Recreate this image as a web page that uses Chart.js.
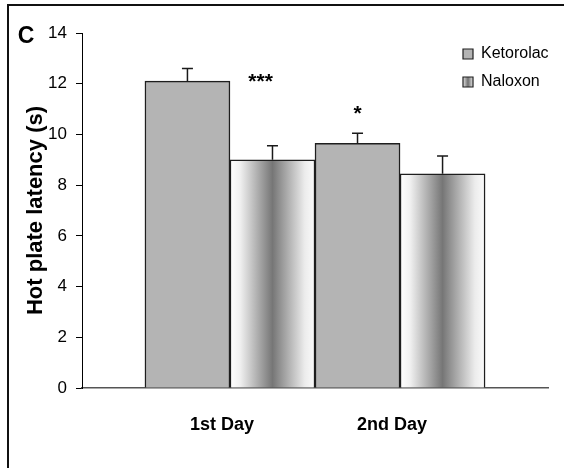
<!DOCTYPE html>
<html><head><meta charset="utf-8">
<script src="https://cdn.jsdelivr.net/npm/chart.js@4.4.1/dist/chart.umd.min.js"></script>
<style>html,body{margin:0;padding:0;background:#fff;} #wrap{width:564px;height:468px;position:relative;}</style>
</head><body><div id="wrap"><canvas id="c" width="564" height="468"></canvas></div>
<script>
const categories = ['1st Day', '2nd Day'];
const ketorolac = [12.1, 9.65];
const ketorolacErr = [0.5, 0.4];
const naloxon = [9.0, 8.45];
const naloxonErr = [0.55, 0.7];
const yTicks = [0, 2, 4, 6, 8, 10, 12, 14];
const sigLabels = ['***', '*'];
const sigX = [1.18, 1.75];
const sigY = [11.83, 10.57];
const panelLabel = 'C';
const yTitle = 'Hot plate latency (s)';

const FONT = "'Liberation Sans', Arial, sans-serif";
const errs = [ketorolacErr, naloxonErr];

function naloxonFill(ctx) {
  if (ctx.type !== 'data') return '#a4a4a4';
  const chart = ctx.chart, xs = chart.scales.x;
  if (!xs || !chart.chartArea || !ctx.raw) return '#a4a4a4';
  const c = xs.getPixelForValue(ctx.raw.x);
  const unit = xs.getPixelForValue(ctx.raw.x + 1) - c;
  if (!isFinite(c) || !isFinite(unit)) return '#a4a4a4';
  const g = chart.ctx.createLinearGradient(c, 0, c + unit / 2, 0);
  g.addColorStop(0, '#ffffff');
  g.addColorStop(0.12, '#f0f0f0');
  g.addColorStop(0.5, '#767676');
  g.addColorStop(0.88, '#ececec');
  g.addColorStop(1, '#fbfbfb');
  return g;
}

const decor = {
  id: 'decor',
  beforeDraw(chart) {
    const c = chart.ctx;
    c.save();
    c.fillStyle = '#fff';
    c.fillRect(0, 0, chart.width, chart.height);
    c.fillStyle = '#111';
    c.fillRect(7, 4, 2, chart.height - 4);
    c.fillRect(7, 4, chart.width - 7, 2);
    c.fillStyle = '#000';
    c.font = 'bold 23px ' + FONT;
    c.textAlign = 'center';
    c.textBaseline = 'middle';
    c.fillText(panelLabel, 26, 37);
    c.restore();
  },
  afterLayout(chart) {
    const lg = chart.legend;
    if (!lg) return;
    const w = lg.width, h = lg.height;
    lg.left = 451; lg.right = 451 + w;
    lg.top = 34; lg.bottom = 34 + h;
  },
  afterDatasetsDraw(chart) {
    const c = chart.ctx, ys = chart.scales.y, xs = chart.scales.x;
    c.save();
    c.strokeStyle = '#1a1a1a';
    c.lineWidth = 1.5;
    chart.data.datasets.forEach((ds, i) => {
      const meta = chart.getDatasetMeta(i);
      meta.data.forEach((el, j) => {
        const v = ds.data[j].y;
        const top = ys.getPixelForValue(v + errs[i][j]);
        c.beginPath();
        c.moveTo(el.x, el.y);
        c.lineTo(el.x, top);
        c.moveTo(el.x - 5.5, top);
        c.lineTo(el.x + 5.5, top);
        c.stroke();
      });
    });
    c.fillStyle = '#000';
    c.font = 'bold 21px ' + FONT;
    c.textAlign = 'center';
    c.textBaseline = 'alphabetic';
    sigLabels.forEach((s, k) => {
      c.fillText(s, xs.getPixelForValue(sigX[k]), ys.getPixelForValue(sigY[k]));
    });
    c.restore();
  }
};

function legendLabels(chart) {
  const items = Chart.defaults.plugins.legend.labels.generateLabels(chart);
  const lg = chart.legend;
  if (items[1]) {
    const x0 = (lg && isFinite(lg.left) ? lg.left : 451) + 12;
    const g = chart.ctx.createLinearGradient(x0, 0, x0 + 10, 0);
    g.addColorStop(0, '#e4e4e4');
    g.addColorStop(0.5, '#707070');
    g.addColorStop(1, '#e4e4e4');
    items[1].fillStyle = g;
  }
  items.forEach(it => { it.lineWidth = 1.2; it.strokeStyle = '#1e1e1e'; });
  return items;
}

new Chart(document.getElementById('c'), {
  type: 'bar',
  data: {
    datasets: [
      {
        label: 'Ketorolac',
        data: categories.map((c, i) => ({ x: i + 1, y: ketorolac[i] })),
        backgroundColor: '#b4b4b4',
        borderColor: '#1e1e1e',
        borderWidth: 1.5
      },
      {
        label: 'Naloxon',
        data: categories.map((c, i) => ({ x: i + 1, y: naloxon[i] })),
        backgroundColor: naloxonFill,
        borderColor: '#1e1e1e',
        borderWidth: 1.5
      }
    ]
  },
  options: {
    responsive: false,
    animation: false,
    devicePixelRatio: 1,
    categoryPercentage: 1,
    barPercentage: 1,
    layout: { padding: { left: 0, right: 16, top: 33, bottom: 0 } },
    plugins: {
      legend: {
        position: 'chartArea',
        align: 'start',
        labels: {
          font: { family: FONT, size: 16 },
          color: '#000',
          boxWidth: 10,
          boxHeight: 10,
          padding: 12,
          generateLabels: legendLabels
        }
      },
      tooltip: { enabled: false }
    },
    scales: {
      x: {
        type: 'linear',
        min: 0.13,
        max: 2.87,
        offset: false,
        afterBuildTicks(scale) { scale.ticks = categories.map((c, i) => ({ value: i + 1 })); },
        afterFit(scale) { scale.height = 80; },
        ticks: {
          callback: (v) => categories[Math.round(v) - 1] || '',
          font: { family: FONT, size: 18, weight: 'bold' },
          color: '#000',
          padding: 26,
          labelOffset: -8,
          maxRotation: 0,
          autoSkip: false
        },
        grid: { display: true, drawOnChartArea: false, drawTicks: false, offset: false },
        border: { color: '#555', width: 1.5 }
      },
      y: {
        min: 0,
        max: 14,
        afterBuildTicks(scale) { scale.ticks = yTicks.map(v => ({ value: v })); },
        afterFit(scale) { scale.width = 82; },
        ticks: {
          font: { family: FONT, size: 17 },
          color: '#000',
          padding: 9
        },
        grid: { drawOnChartArea: false, tickLength: 6, color: '#000', lineWidth: 1 },
        border: { color: '#000', width: 1 },
        title: {
          display: true,
          text: yTitle,
          font: { family: FONT, size: 22, weight: 'bold' },
          color: '#000',
          padding: 23
        }
      }
    }
  },
  plugins: [decor]
});
</script>
</body></html>
